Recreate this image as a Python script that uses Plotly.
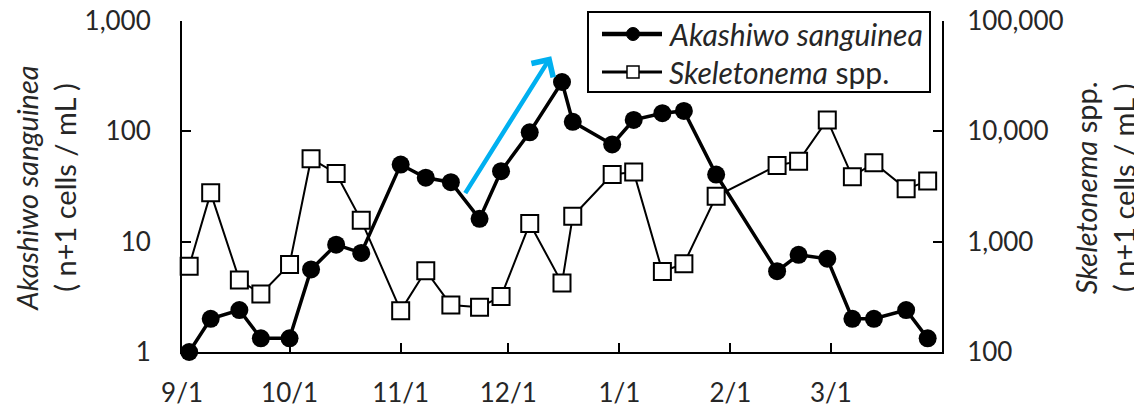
import math
import plotly.graph_objects as go

# ---- data ----
sample_dates = [
    "2014-09-03", "2014-09-09", "2014-09-17", "2014-09-23", "2014-10-01", "2014-10-07",
    "2014-10-14", "2014-10-21", "2014-11-01", "2014-11-08", "2014-11-15", "2014-11-23",
    "2014-11-29", "2014-12-07", "2014-12-16", "2014-12-19", "2014-12-30", "2015-01-05",
    "2015-01-13", "2015-01-19", "2015-01-28", "2015-02-14", "2015-02-20", "2015-02-28",
    "2015-03-07", "2015-03-13", "2015-03-22", "2015-03-28",
]
akashiwo = [1.0, 2.0, 2.4, 1.33, 1.33, 5.6, 9.4, 7.9, 50, 38, 34.6, 16.1,
            43.5, 98, 280, 122, 76, 127, 146, 153, 40.6,
            5.4, 7.6, 7.0, 2.0, 2.0, 2.4, 1.33]
skeletonema = [600, 2770, 450, 335, 620, 5650, 4150, 1560, 237, 545, 267, 255,
               318, 1460, 421, 1700, 4060, 4270, 537, 631, 2580,
               4910, 5370, 12700, 3870, 5190, 3010, 3540]

x_tick_dates = ["2014-09-01", "2014-10-01", "2014-11-01", "2014-12-01",
                "2015-01-01", "2015-02-01", "2015-03-01"]
x_tick_labels = ["9/1", "10/1", "11/1", "12/1", "1/1", "2/1", "3/1"]
x_range = ["2014-09-01", "2015-04-01"]

left_tick_vals = [1, 10, 100, 1000]
left_tick_labels = ["1", "10", "100", "1,000"]
right_tick_vals = [100, 1000, 10000, 100000]
right_tick_labels = ["100", "1,000", "10,000", "100,000"]

series_names = ["<i>Akashiwo sanguinea</i>", "<i>Skeletonema</i> spp."]

# arrow (annotation) endpoints in data units of the left axis
arrow_tail = ("2014-11-18 18:00", 26.7)
arrow_tip = ("2014-12-13", 480)

FONT = "Lato"
TXT = "#262626"
TICK_SIZE = 26
TITLE_SIZE = 29
LEGEND_SIZE = 30

# plot-area edges in page pixels (page body has an 8px margin)
PL, PR, PT, PB = 182, 942, 21, 352


def px(xp):
    return (xp - PL) / (PR - PL)


def py(yp):
    return (PB - yp) / (PB - PT)


fig = go.Figure()
fig.add_trace(go.Scatter(
    x=sample_dates, y=akashiwo, name=series_names[0],
    mode="lines+markers", yaxis="y",
    line=dict(color="black", width=3.5),
    marker=dict(symbol="circle", size=18, color="black"),
    cliponaxis=False,
))
fig.add_trace(go.Scatter(
    x=sample_dates, y=skeletonema, name=series_names[1],
    mode="lines+markers", yaxis="y2",
    line=dict(color="black", width=2),
    marker=dict(symbol="square", size=17, color="white",
                line=dict(color="black", width=2)),
    cliponaxis=False,
))

axis_common = dict(
    showline=True, linecolor="black", linewidth=2,
    ticks="inside", ticklen=9, tickwidth=2, tickcolor="black",
    showgrid=False, zeroline=False, automargin=False,
    ticklabeloverflow="allow",
    tickfont=dict(family=FONT, size=TICK_SIZE, color=TXT),
)

fig.update_layout(
    width=1134, height=399,
    margin=dict(l=PL - 8, r=1142 - PR, t=PT - 8, b=407 - PB, autoexpand=False),
    paper_bgcolor="white", plot_bgcolor="white",
    font=dict(family=FONT, color=TXT),
    xaxis=dict(type="date", range=x_range, tickmode="array",
               tickvals=x_tick_dates, ticktext=x_tick_labels,
               ticklabelstandoff=17, **axis_common),
    yaxis=dict(type="log", range=[0, 3], tickmode="array",
               tickvals=left_tick_vals, ticktext=left_tick_labels,
               ticklabelstandoff=24, **axis_common),
    yaxis2=dict(type="log", range=[2, 5], overlaying="y", side="right",
                tickmode="array", tickvals=right_tick_vals,
                ticktext=right_tick_labels, ticklabelstandoff=18,
                **axis_common),
    showlegend=False,
)

# ---- legend box (drawn as layout shapes/annotations) ----
box = dict(x0=588, x1=930, y0=12, y1=92)
sym_x0, sym_x1, sym_cx = 602, 662, 633
item_y = [34, 72]
text_x = 667

shapes = [
    dict(type="rect", xref="paper", yref="paper", layer="above",
         x0=px(box["x0"]), x1=px(box["x1"]), y0=py(box["y1"]), y1=py(box["y0"]),
         line=dict(color="black", width=2), fillcolor="white"),
    dict(type="line", xref="paper", yref="paper", layer="above",
         x0=px(sym_x0), x1=px(sym_x1), y0=py(item_y[0]), y1=py(item_y[0]),
         line=dict(color="black", width=4.5)),
    dict(type="circle", xref="paper", yref="paper", layer="above",
         x0=px(sym_cx - 6.5), x1=px(sym_cx + 6.5),
         y0=py(item_y[0] + 6.5), y1=py(item_y[0] - 6.5),
         line=dict(color="black", width=1), fillcolor="black"),
    dict(type="line", xref="paper", yref="paper", layer="above",
         x0=px(sym_x0), x1=px(sym_x1), y0=py(item_y[1]), y1=py(item_y[1]),
         line=dict(color="black", width=3)),
    dict(type="rect", xref="paper", yref="paper", layer="above",
         x0=px(sym_cx - 6), x1=px(sym_cx + 6),
         y0=py(item_y[1] + 6), y1=py(item_y[1] - 6),
         line=dict(color="black", width=1.5), fillcolor="white"),
]
fig.update_layout(shapes=shapes)

for name, yy in zip(series_names, item_y):
    fig.add_annotation(
        x=px(text_x), y=py(yy), xref="paper", yref="paper",
        text=name, showarrow=False, xanchor="left", yanchor="middle",
        font=dict(family=FONT, size=LEGEND_SIZE, color=TXT),
    )

# y values for log axes in annotations are given as log10
fig.add_annotation(
    x=arrow_tip[0], y=math.log10(arrow_tip[1]), xref="x", yref="y",
    ax=arrow_tail[0], ay=math.log10(arrow_tail[1]), axref="x", ayref="y",
    text="", showarrow=True, arrowhead=4,
    arrowsize=1.1, arrowwidth=4.5, arrowcolor="#00B0F0", standoff=0,
)

fig.add_annotation(
    x=-0.1796, y=0.495, xref="paper", yref="paper",
    text="<i>Akashiwo sanguinea</i><br>( n+1 cells / mL )",
    textangle=-90, showarrow=False, xanchor="center", yanchor="middle",
    font=dict(family=FONT, size=TITLE_SIZE, color=TXT),
)
fig.add_annotation(
    x=1.2132, y=0.495, xref="paper", yref="paper",
    text="<i>Skeletonema</i> spp.<br>( n+1 cells / mL )",
    textangle=-90, showarrow=False, xanchor="center", yanchor="middle",
    font=dict(family=FONT, size=TITLE_SIZE, color=TXT),
)

fig.write_html("out.html")
